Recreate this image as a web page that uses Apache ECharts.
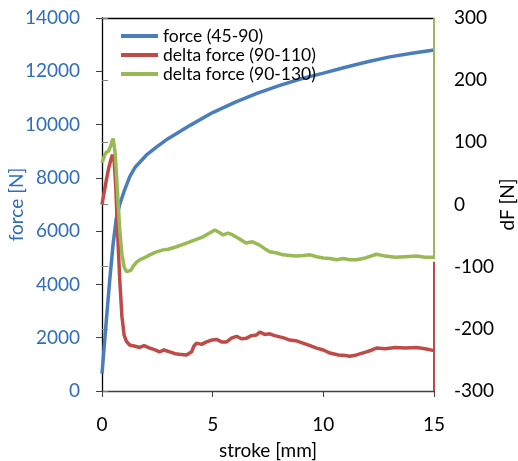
<!DOCTYPE html>
<html><head><meta charset="utf-8">
<script src="https://cdn.jsdelivr.net/npm/echarts@6/dist/echarts.min.js"></script>
<style>html,body{margin:0;padding:0;background:#fff}#c{width:518px;height:461px}</style>
</head><body><div id="c"></div>
<script>
// stroke [mm] vs force [N]
const forceX = [0, 0.05, 0.2, 0.35, 0.5, 0.65, 0.8, 1.0, 1.25, 1.5, 2, 2.5, 3, 4, 5, 6, 7, 8, 9, 10, 11, 12, 13, 14, 15];
const forceY = [650, 1160, 2700, 4170, 5500, 6500, 7000, 7500, 8040, 8400, 8850, 9180, 9480, 9980, 10450, 10830, 11170, 11460, 11720, 11930, 12150, 12360, 12540, 12680, 12800];

// delta force (90-110)
const red110X = [0, 0.1, 0.2, 0.3, 0.4, 0.47, 0.55, 0.62, 0.7, 0.8, 0.9, 1.0, 1.1, 1.25, 1.5, 1.7, 1.9, 2.16, 2.4, 2.6, 2.8, 3.06, 3.3, 3.5, 3.82, 4.05, 4.15, 4.27, 4.5, 4.72, 4.95, 5.18, 5.4, 5.63, 5.85, 6.08, 6.3, 6.53, 6.75, 6.98, 7.13, 7.35, 7.58, 7.8, 8.03, 8.25, 8.48, 8.75, 9.08, 9.4, 9.7, 10.0, 10.3, 10.68, 11.0, 11.2, 11.5, 11.95, 12.2, 12.4, 12.8, 13.25, 13.7, 14.2, 14.6, 15];
const red110Y = [0, 20, 40, 58, 72, 80, 70, 30, -40, -120, -180, -210, -220, -226, -228, -230, -227, -231, -234, -237, -234, -237, -240, -241, -242, -237, -228, -223, -225, -221, -218, -217, -221, -221, -215, -212, -216, -215, -211, -210, -205, -209, -208, -211, -213, -215, -218, -219, -223, -227, -231, -234, -239, -242, -243, -244, -242, -237, -234, -231, -232, -230, -231, -230, -232, -235];

// delta force (90-130)
const green130X = [0, 0.05, 0.12, 0.2, 0.3, 0.4, 0.45, 0.5, 0.55, 0.6, 0.7, 0.8, 0.9, 1.0, 1.1, 1.18, 1.3, 1.4, 1.55, 1.7, 1.9, 2.16, 2.4, 2.76, 3.0, 3.36, 3.6, 3.97, 4.2, 4.57, 4.8, 5.1, 5.3, 5.47, 5.7, 5.9, 6.2, 6.5, 6.8, 7.1, 7.35, 7.58, 7.9, 8.18, 8.5, 8.78, 9.1, 9.4, 9.7, 10.0, 10.3, 10.6, 10.9, 11.2, 11.5, 11.9, 12.4, 12.8, 13.25, 13.7, 14.2, 14.6, 15];
const green130Y = [67, 72, 80, 84, 86, 95, 102, 106, 95, 80, 20, -40, -80, -100, -108, -111, -106, -100, -93, -89, -86, -81, -77, -73, -72, -68, -65, -60, -57, -52, -47, -41, -45, -49, -46, -49, -55, -62, -60, -65, -71, -76, -78, -81, -82, -83, -82, -81, -84, -86, -87, -89, -87, -89, -89, -86, -80, -83, -85, -84, -83, -85, -85];

// right-axis edge segments (colored axis edge at x = 15)
const greenEdge = [15, 300, -88];
const redEdge = [15, -92, -300];

const forceTicks = {min: 0, max: 14000, interval: 2000};
const dfTicks = {min: -300, max: 300, interval: 100};
const strokeTicks = {min: 0, max: 15, interval: 5};

const zip = (xs, ys) => xs.map((x, i) => [x, ys[i]]);
const FONT = 'Lato';
const FS = 19;
const BLUE = '#4A7EBB', RED = '#BE4B48', GREEN = '#98B954', LBLUE = '#2F6EBA';
const plain = v => String(v);

const chart = echarts.init(document.getElementById('c'));
chart.setOption({
  animation: false,
  textStyle: {fontFamily: FONT},
  grid: {left: 102, right: 84, top: 18, bottom: 70, containLabel: false, outerBoundsMode: 'none'},
  legend: {
    orient: 'vertical', left: 116, top: 22, itemGap: 1,
    icon: 'rect', itemWidth: 37, itemHeight: 4,
    textStyle: {fontSize: 17.5, color: '#000', fontFamily: FONT},
    data: ['force (45-90)', 'delta force (90-110)', 'delta force (90-130)']
  },
  xAxis: [{
    type: 'value', min: strokeTicks.min, max: strokeTicks.max, interval: strokeTicks.interval,
    name: 'stroke [mm]', nameLocation: 'middle', nameGap: 50, nameMoveOverlap: false,
    nameTextStyle: {fontSize: FS, color: '#000', fontFamily: FONT},
    axisLine: {show: true, onZero: false, lineStyle: {color: '#404040', width: 1.3}},
    axisTick: {show: true, inside: false, length: 6, lineStyle: {color: '#404040'}},
    axisLabel: {fontSize: FS, color: '#000', margin: 24, fontFamily: FONT, formatter: plain},
    splitLine: {show: false}
  }, {
    type: 'value', position: 'top', min: strokeTicks.min, max: strokeTicks.max,
    axisLine: {show: true, onZero: false, lineStyle: {color: '#000', width: 1.3}},
    axisTick: {show: false}, axisLabel: {show: false}, splitLine: {show: false}
  }],
  yAxis: [{
    type: 'value', position: 'left', min: forceTicks.min, max: forceTicks.max, interval: forceTicks.interval,
    name: 'force [N]', nameLocation: 'middle', nameGap: 76, nameRotate: 90, nameMoveOverlap: false,
    nameTextStyle: {fontSize: FS, color: LBLUE, fontFamily: FONT},
    axisLine: {show: true, onZero: false, lineStyle: {color: '#000', width: 1.3}},
    axisTick: {show: true, inside: false, length: 6, lineStyle: {color: '#404040'}},
    axisLabel: {fontSize: FS, color: LBLUE, margin: 22, fontFamily: FONT, formatter: plain},
    splitLine: {show: false}
  }, {
    type: 'value', position: 'right', min: dfTicks.min, max: dfTicks.max, interval: dfTicks.interval,
    name: 'dF [N]', nameLocation: 'middle', nameGap: 64, nameRotate: 90, nameMoveOverlap: false,
    nameTextStyle: {fontSize: FS, color: '#000', fontFamily: FONT},
    axisLine: {show: false},
    axisTick: {show: true, inside: false, length: 6, lineStyle: {color: '#808080'}},
    axisLabel: {fontSize: FS, color: '#000', margin: 20, fontFamily: FONT, formatter: plain},
    splitLine: {show: false}
  }],
  series: [{
    name: 'force (45-90)', type: 'line', yAxisIndex: 0, symbol: 'none',
    data: zip(forceX, forceY), lineStyle: {color: BLUE, width: 3.5}, itemStyle: {color: BLUE}
  }, {
    name: 'delta force (90-110)', type: 'line', yAxisIndex: 1, symbol: 'none',
    data: zip(red110X, red110Y), lineStyle: {color: RED, width: 3.5}, itemStyle: {color: RED},
    markLine: {silent: true, symbol: 'none', label: {show: false},
      lineStyle: {color: RED, width: 2, type: 'solid'},
      data: [[{coord: [redEdge[0], redEdge[1]]}, {coord: [redEdge[0], redEdge[2]]}]]}
  }, {
    name: 'delta force (90-130)', type: 'line', yAxisIndex: 1, symbol: 'none',
    data: zip(green130X, green130Y), lineStyle: {color: GREEN, width: 3.5}, itemStyle: {color: GREEN},
    markLine: {silent: true, symbol: 'none', label: {show: false},
      lineStyle: {color: GREEN, width: 2, type: 'solid'},
      data: [[{coord: [greenEdge[0], greenEdge[1]]}, {coord: [greenEdge[0], greenEdge[2]]}]]}
  }]
});
</script></body></html>
